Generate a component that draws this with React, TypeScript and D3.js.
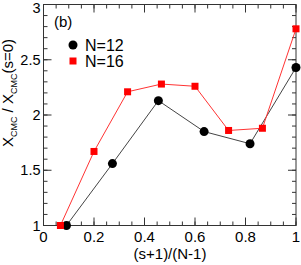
import React from "react";
import * as d3 from "d3";

// N=12 series
const xN12 = [0.091, 0.273, 0.455, 0.636, 0.818, 1.0];
const yN12 = [1.0, 1.56, 2.13, 1.85, 1.74, 2.43];

// N=16 series
const xN16 = [0.067, 0.2, 0.333, 0.467, 0.6, 0.733, 0.867, 1.0];
const yN16 = [1.0, 1.67, 2.21, 2.28, 2.26, 1.86, 1.88, 2.78];

const xTicks = [0, 0.2, 0.4, 0.6, 0.8, 1];
const xTickLabels = ["0", "0.2", "0.4", "0.6", "0.8", "1"];
const yTicks = [1, 1.5, 2, 2.5, 3];
const yTickLabels = ["1", "1.5", "2", "2.5", "3"];
const xMinor = d3.range(0, 1.0001, 0.05);
const yMinor = d3.range(1, 3.0001, 0.1);

const W = 301;
const H = 265;
const m = { left: 43.5, right: 5, top: 4.5, bottom: 39.5 };

const App = () => {
    const x = d3.scaleLinear().domain([0, 1]).range([m.left, W - m.right]);
    const y = d3.scaleLinear().domain([1, 3]).range([H - m.bottom, m.top]);

    const line = d3
        .line<[number, number]>()
        .x(d => x(d[0]))
        .y(d => y(d[1]));

    const n12 = xN12.map((v, i) => [v, yN12[i]] as [number, number]);
    const n16 = xN16.map((v, i) => [v, yN16[i]] as [number, number]);

    const x0 = x(0), x1 = x(1), y0 = y(1), y1 = y(3);
    const frame = "#333";
    const font = "'Liberation Sans', Arial, sans-serif";

    return (
        <svg width={W} height={H} style={{ position: "absolute", left: 0, top: 0 }} fontFamily={font}>
            <rect width={W} height={H} fill="#fff" />
            {/* minor ticks */}
            {xMinor.map((t, i) => (
                <g key={"xm" + i} stroke={frame} strokeWidth={1}>
                    <line x1={x(t)} x2={x(t)} y1={y0} y2={y0 - 4} />
                    <line x1={x(t)} x2={x(t)} y1={y1} y2={y1 + 4} />
                </g>
            ))}
            {yMinor.map((t, i) => (
                <g key={"ym" + i} stroke={frame} strokeWidth={1}>
                    <line x1={x0} x2={x0 + 4} y1={y(t)} y2={y(t)} />
                    <line x1={x1} x2={x1 - 4} y1={y(t)} y2={y(t)} />
                </g>
            ))}
            {/* major ticks */}
            {xTicks.map((t, i) => (
                <g key={"x" + i}>
                    <line x1={x(t)} x2={x(t)} y1={y0} y2={y0 - 8} stroke={frame} />
                    <line x1={x(t)} x2={x(t)} y1={y1} y2={y1 + 8} stroke={frame} />
                    <text x={x(t)} y={y0 + 16} fontSize={15} textAnchor="middle">
                        {xTickLabels[i]}
                    </text>
                </g>
            ))}
            {yTicks.map((t, i) => (
                <g key={"y" + i}>
                    <line x1={x0} x2={x0 + 8} y1={y(t)} y2={y(t)} stroke={frame} />
                    <line x1={x1} x2={x1 - 8} y1={y(t)} y2={y(t)} stroke={frame} />
                    <text x={x0 - 3} y={Math.max(y(t) + 5, 12.5)} fontSize={14.5} textAnchor="end">
                        {yTickLabels[i]}
                    </text>
                </g>
            ))}
            <rect x={x0} y={y1} width={x1 - x0} height={y0 - y1} fill="none" stroke={frame} strokeWidth={1} />

            {/* series */}
            <path d={line(n12) || ""} fill="none" stroke="#444" strokeWidth={1} />
            <path d={line(n16) || ""} fill="none" stroke="#ff3333" strokeWidth={1} />
            {n12.map((d, i) => (
                <circle key={"c" + i} cx={x(d[0])} cy={y(d[1])} r={4.5} fill="#000" />
            ))}
            {n16.map((d, i) => (
                <rect key={"s" + i} x={x(d[0]) - 3.5} y={y(d[1]) - 3.5} width={7} height={7} fill="#ff0000" />
            ))}

            {/* labels */}
            <text x={54} y={27} fontSize={15}>(b)</text>
            <circle cx={73} cy={45} r={4.5} fill="#000" />
            <text x={85} y={50.5} fontSize={16}>N=12</text>
            <rect x={69.5} y={57.5} width={7} height={7} fill="#ff0000" />
            <text x={85} y={66.5} fontSize={16}>N=16</text>

            <text x={170} y={259} fontSize={15} textAnchor="middle">(s+1)/(N-1)</text>
            <text transform="translate(12.5,93) rotate(-90)" fontSize={15} textAnchor="middle">
                X<tspan fontSize={9} dy={4}>CMC</tspan>
                <tspan dy={-4}> / X</tspan>
                <tspan fontSize={9} dy={4}>CMC</tspan>
                <tspan dy={-4}>(s=0)</tspan>
            </text>
        </svg>
    );
};

export default App;
